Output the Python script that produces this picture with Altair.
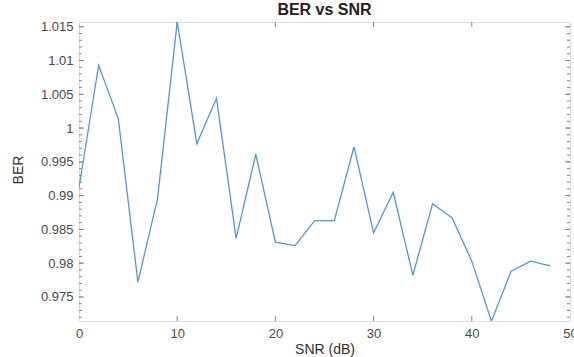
import altair as alt
import pandas as pd

snr = [0, 2, 4, 6, 8, 10, 12, 14, 16, 18, 20, 22, 24, 26, 28, 30, 32, 34, 36, 38, 40, 42, 44, 46, 48]
ber = [0.9912, 1.0093, 1.0014, 0.9772, 0.9896, 1.0157, 0.9977, 1.0044, 0.9837, 0.9961,
       0.9831, 0.9826, 0.9863, 0.9863, 0.9972, 0.9845, 0.9905, 0.9782, 0.9888, 0.9867,
       0.9803, 0.9714, 0.9788, 0.9803, 0.9796]
y_major = [0.975, 0.98, 0.985, 0.99, 0.995, 1.0, 1.005, 1.01, 1.015]
y_minor = [round(0.972 + 0.001 * i, 3) for i in range(44)]
x_major = [10, 20, 30, 40]

W, H = 491, 299
FONT = "Liberation Sans"
AXCOL = "#9a9a9a"
TICKCOL = "#858585"
LABCOL = "#4a4a4a"
TITCOL = "#303030"

df = pd.DataFrame({"snr": snr, "ber": ber})
xs = alt.Scale(domain=[0, 50], nice=False, zero=False)
ys = alt.Scale(domain=[0.97144, 1.0157], nice=False, zero=False)

x_axis = alt.Axis(values=[0, 10, 20, 30, 40, 50], title="SNR (dB)", grid=False,
                  domain=False, ticks=False, labelPadding=6, labelFlush=False,
                  labelOverlap=False, titleY=21, titleFontWeight="normal",
                  labelFont=FONT, labelFontSize=13, labelColor=LABCOL,
                  titleFont=FONT, titleFontSize=14, titleColor=TITCOL)
y_axis = alt.Axis(values=y_major, format="~g", title="BER", grid=False, domain=False,
                  ticks=False, labelPadding=6, labelOverlap=False, labelFlush=False,
                  titleX=-54, titleY=H / 2 - 2, titleFontWeight="normal",
                  labelFont=FONT, labelFontSize=13, labelColor=LABCOL,
                  titleFont=FONT, titleFontSize=14, titleColor=TITCOL)

line = alt.Chart(df).mark_line(color="#5198cd", strokeWidth=1.3, clip=True).encode(
    x=alt.X("snr:Q", scale=xs, axis=x_axis, title="SNR (dB)"),
    y=alt.Y("ber:Q", scale=ys, axis=y_axis, title="BER"),
)

ymaj = pd.DataFrame({"v": y_major})
ymin = pd.DataFrame({"v": [v for v in y_minor if 0.97144 <= v <= 1.0157]})
xmaj = pd.DataFrame({"v": x_major})


def ytick(data, cx, length):
    return alt.Chart(data).mark_tick(color=TICKCOL, thickness=1, size=length, opacity=1).encode(
        y=alt.Y("v:Q", scale=ys, axis=y_axis, title="BER"), x=alt.value(cx))


def xtick(data, cy, length):
    return alt.Chart(data).mark_tick(color=TICKCOL, thickness=1, size=length, opacity=1).encode(
        x=alt.X("v:Q", scale=xs, axis=x_axis, title="SNR (dB)"), y=alt.value(cy))


layers = [
    line,
    ytick(ymin, 1.5, 3), ytick(ymin, W - 1.5, 3),
    ytick(ymaj, 2.5, 5), ytick(ymaj, W - 2.5, 5),
    xtick(xmaj, H - 2.5, 5), xtick(xmaj, 2.5, 5),
]

chart = alt.layer(*layers).properties(
    width=W, height=H,
    title=alt.TitleParams("BER vs SNR", anchor="middle", fontSize=16, fontWeight="bold",
                          font=FONT, color="#222222", offset=3),
    autosize=alt.AutoSizeParams(type="none"),
    padding={"left": 79, "top": 22, "right": 4, "bottom": 36},
).configure_view(stroke=AXCOL, strokeWidth=1).configure(background="white")

chart.save("out.html", embed_options={"renderer": "svg", "actions": False})
